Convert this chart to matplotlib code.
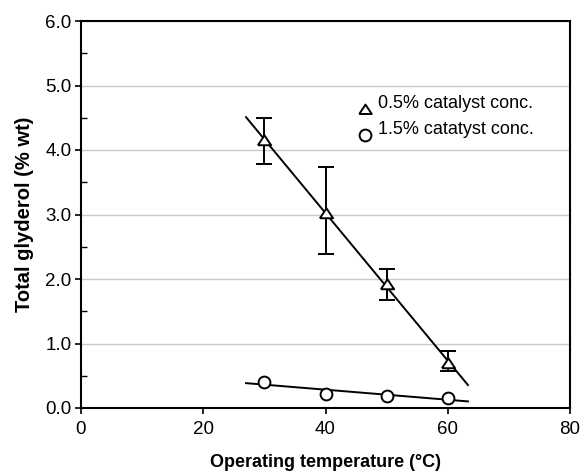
import numpy as np
import matplotlib
matplotlib.use('Agg')
import matplotlib.pyplot as plt
from matplotlib.ticker import MultipleLocator, FormatStrFormatter

plt.rcParams['font.family'] = ['Liberation Sans', 'DejaVu Sans']

temps = [30, 40, 50, 60]
glyc_low = [4.15, 3.02, 1.93, 0.70]       # 0.5% catalyst
err_lo = [0.37, 0.64, 0.25, 0.13]
err_hi = [0.35, 0.71, 0.22, 0.18]
glyc_high = [0.41, 0.22, 0.19, 0.16]      # 1.5% catalyst

# flat triangle like the original
tri = [(-1, -0.72), (1, -0.72), (0, 0.78), (-1, -0.72)]

fig = plt.figure(figsize=(5.82, 4.72), dpi=100)
ax = fig.add_axes([81/582, 1-408/472, 489/582, 387/472])

# linear trendlines
xfit = np.array([27, 63.3])
p1 = np.polyfit(temps, glyc_low, 1)
p2 = np.polyfit(temps, glyc_high, 1)
ax.plot(xfit, np.polyval(p1, xfit), color='black', lw=1.4, zorder=3)
ax.plot(xfit, np.polyval(p2, xfit), color='black', lw=1.4, zorder=3)

ax.errorbar(temps, glyc_low, yerr=[err_lo, err_hi], fmt='none', ecolor='black',
            elinewidth=1.4, capsize=6, capthick=1.4, zorder=4)
ax.plot(temps, glyc_low, ls='none', marker=tri, ms=9.5, mfc='white', mec='black',
        mew=1.4, zorder=5)
ax.plot(temps, glyc_high, ls='none', marker='o', ms=8.5, mfc='white', mec='black',
        mew=1.4, zorder=5)

# legend drawn as markers + text
ax.plot([46.5], [4.64], ls='none', marker=tri, ms=9, mfc='white', mec='black', mew=1.4)
ax.plot([46.5], [4.24], ls='none', marker='o', ms=8.5, mfc='white', mec='black', mew=1.4)
ax.text(48.6, 4.72, '0.5% catalyst conc.', fontsize=13, va='center')
ax.text(48.6, 4.32, '1.5% catatyst conc.', fontsize=13, va='center')

ax.set_xlim(0, 80)
ax.set_ylim(0, 6)
ax.set_xticks([0, 20, 40, 60, 80])
ax.yaxis.set_major_locator(MultipleLocator(1))
ax.yaxis.set_minor_locator(MultipleLocator(0.5))
ax.yaxis.set_major_formatter(FormatStrFormatter('%.1f'))
ax.grid(axis='y', which='major', color='#c8c8c8', lw=1)
ax.set_axisbelow(True)
ax.tick_params(axis='both', which='major', direction='out', length=4, width=1.2,
               labelsize=13.5, pad=3)
ax.tick_params(axis='x', which='major', pad=5)
ax.tick_params(axis='y', which='minor', direction='in', length=4, width=1)
for s in ax.spines.values():
    s.set_linewidth(1.5)

ax.set_xlabel('Operating temperature (\u00b0C)', fontsize=13, fontweight='bold', labelpad=12)
ax.set_ylabel('Total glyderol (% wt)', fontsize=14.5, fontweight='bold', labelpad=8)

fig.savefig('out.png', dpi=100)
